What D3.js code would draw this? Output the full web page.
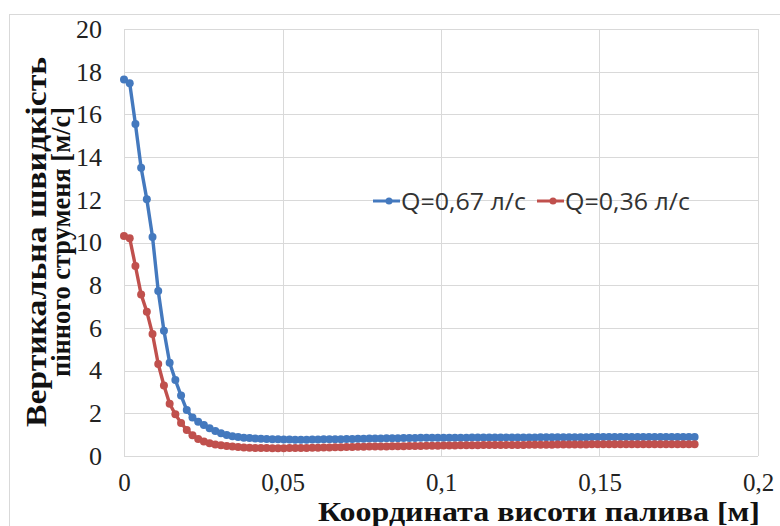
<!DOCTYPE html>
<html>
<head>
<meta charset="utf-8">
<script src="https://cdn.jsdelivr.net/npm/d3@7"></script>
<style>
  html, body { margin: 0; padding: 0; background: #fff; }
  svg { display: block; }
</style>
</head>
<body>
<svg id="chart" width="780" height="526"></svg>
<script>
// Sampling grid along the fuel height coordinate (m)
const xStep = 0.0018;
const pointCount = 101;

// Vertical foam-jet velocity, m/s, Q = 0,67 l/s
const flowHigh = [
  17.64, 17.46, 15.55, 13.5, 12.02, 10.26, 7.73, 5.87, 4.37, 3.56, 2.83,
  2.15, 1.8, 1.6, 1.45, 1.3, 1.17, 1.06, 0.98, 0.93, 0.89,
  0.86, 0.84, 0.82, 0.81, 0.8, 0.79, 0.78, 0.77, 0.77, 0.76,
  0.76, 0.76, 0.77, 0.77, 0.78, 0.78, 0.79, 0.79, 0.8, 0.8,
  0.81, 0.81, 0.82, 0.82, 0.82, 0.83, 0.83, 0.83, 0.84, 0.84,
  0.84, 0.85, 0.85, 0.85, 0.85, 0.86, 0.86, 0.86, 0.86, 0.86,
  0.87, 0.87, 0.87, 0.87, 0.87, 0.87, 0.87, 0.87, 0.87, 0.87,
  0.87, 0.87, 0.88, 0.88, 0.88, 0.88, 0.88, 0.88, 0.88, 0.88,
  0.88, 0.89, 0.89, 0.89, 0.89, 0.89, 0.89, 0.89, 0.89, 0.89,
  0.89, 0.89, 0.89, 0.89, 0.89, 0.89, 0.89, 0.89, 0.89, 0.89
];

// Vertical foam-jet velocity, m/s, Q = 0,36 l/s
const flowLow = [
  10.3, 10.2, 8.9, 7.57, 6.76, 5.71, 4.31, 3.3, 2.45, 1.95, 1.55,
  1.22, 0.97, 0.8, 0.68, 0.6, 0.54, 0.5, 0.47, 0.44, 0.42,
  0.4, 0.39, 0.38, 0.37, 0.37, 0.36, 0.36, 0.36, 0.37, 0.37,
  0.38, 0.38, 0.39, 0.39, 0.4, 0.4, 0.41, 0.41, 0.42, 0.42,
  0.43, 0.43, 0.44, 0.44, 0.45, 0.45, 0.46, 0.46, 0.46, 0.47,
  0.47, 0.47, 0.48, 0.48, 0.48, 0.49, 0.49, 0.49, 0.5, 0.5,
  0.5, 0.5, 0.51, 0.51, 0.51, 0.51, 0.52, 0.52, 0.52, 0.52,
  0.53, 0.53, 0.53, 0.53, 0.53, 0.54, 0.54, 0.54, 0.54, 0.54,
  0.54, 0.55, 0.55, 0.55, 0.55, 0.55, 0.55, 0.55, 0.55, 0.55,
  0.55, 0.55, 0.55, 0.55, 0.55, 0.55, 0.55, 0.55, 0.55, 0.55
];

const seriesNames = ["Q=0,67 л/с", "Q=0,36 л/с"];
const seriesColors = ["#4479BE", "#C0504D"];

const xTicks = [0, 0.05, 0.1, 0.15, 0.2];
const xTickLabels = ["0", "0,05", "0,1", "0,15", "0,2"];
const yTicks = [0, 2, 4, 6, 8, 10, 12, 14, 16, 18, 20];

const xTitle = "Координата висоти палива [м]";
const yTitleLines = ["Вертикальна швидкість", "пінного струменя [м/с]"];

const svg = d3.select("#chart");

const plot = { left: 124, right: 758, top: 29, bottom: 456 };

const x = d3.scaleLinear().domain([0, 0.2]).range([plot.left, plot.right]);
const y = d3.scaleLinear().domain([0, 20]).range([plot.bottom, plot.top]);

// Outer chart frame
svg.append("rect")
  .attr("x", 9.5).attr("y", 14.5)
  .attr("width", 800).attr("height", 600)
  .attr("fill", "#fff")
  .attr("stroke", "#d9d9d9").attr("stroke-width", 1);

// Gridlines
const grid = svg.append("g");
grid.selectAll("line.h").data(yTicks).join("line")
  .attr("x1", plot.left).attr("x2", plot.right)
  .attr("y1", d => Math.round(y(d)) + 0.5).attr("y2", d => Math.round(y(d)) + 0.5)
  .attr("stroke", "#d9d9d9").attr("stroke-width", 1);
grid.selectAll("line.v").data(xTicks).join("line")
  .attr("y1", plot.top).attr("y2", plot.bottom)
  .attr("x1", d => Math.round(x(d)) + 0.5).attr("x2", d => Math.round(x(d)) + 0.5)
  .attr("stroke", "#d9d9d9").attr("stroke-width", 1);

// Axes (tick labels only, Excel style)
const serif = "'Liberation Serif', 'Times New Roman', serif";

const yAxis = d3.axisLeft(y).tickValues(yTicks).tickSize(0).tickPadding(0)
  .tickFormat(d => String(d));
svg.append("g")
  .attr("transform", `translate(${plot.left - 22},0)`)
  .call(yAxis)
  .call(g => g.select(".domain").remove())
  .call(g => g.selectAll("text")
    .attr("font-family", serif).attr("font-size", 26)
    .attr("fill", "#222"));

const xAxis = d3.axisBottom(x).tickValues(xTicks).tickSize(0).tickPadding(0)
  .tickFormat((d, i) => xTickLabels[i]);
svg.append("g")
  .attr("transform", `translate(0,${plot.bottom + 17.5})`)
  .call(xAxis)
  .call(g => g.select(".domain").remove())
  .call(g => g.selectAll("text")
    .attr("font-family", serif).attr("font-size", 25)
    .attr("fill", "#222"));

// Axis titles
svg.append("text")
  .attr("x", 539).attr("y", 521)
  .attr("text-anchor", "middle")
  .attr("font-family", serif).attr("font-weight", "bold").attr("font-size", 27)
  .attr("textLength", 442).attr("lengthAdjust", "spacingAndGlyphs")
  .attr("fill", "#111")
  .text(xTitle);

const yTitleFont = [30, 27];
const yTitleLengths = [370, 270];
const yTitleBase = [46, 70];
const yTitle = svg.append("text")
  .attr("transform", "translate(0,242) rotate(-90)")
  .attr("text-anchor", "middle")
  .attr("font-family", serif).attr("font-weight", "bold")
  .attr("fill", "#111");
yTitle.selectAll("tspan").data(yTitleLines).join("tspan")
  .attr("x", 0)
  .attr("y", (d, i) => yTitleBase[i])
  .attr("font-size", (d, i) => yTitleFont[i])
  .attr("textLength", (d, i) => yTitleLengths[i])
  .attr("lengthAdjust", "spacingAndGlyphs")
  .text(d => d);

// Series
const series = [flowHigh, flowLow].map((vals, k) => ({
  name: seriesNames[k],
  color: seriesColors[k],
  points: vals.slice(0, pointCount).map((v, i) => ({ x: i * xStep, y: v }))
}));

const line = d3.line().x(d => x(d.x)).y(d => y(d.y));

const sg = svg.append("g").selectAll("g").data(series).join("g");
sg.append("path")
  .attr("d", d => line(d.points))
  .attr("fill", "none")
  .attr("stroke", d => d.color)
  .attr("stroke-width", 3.4)
  .attr("stroke-linejoin", "round");
sg.each(function (s) {
  d3.select(this).selectAll("circle").data(s.points).join("circle")
    .attr("cx", d => x(d.x)).attr("cy", d => y(d.y))
    .attr("r", 4)
    .attr("fill", s.color);
});

// Legend
const legendPos = [{ x: 373, t: 401 }, { x: 537, t: 565 }];
const legend = svg.append("g").selectAll("g").data(series).join("g")
  .attr("transform", "translate(0,201)");
legend.append("line")
  .attr("x1", (d, i) => legendPos[i].x).attr("x2", (d, i) => legendPos[i].x + 27)
  .attr("y1", 0).attr("y2", 0)
  .attr("stroke", d => d.color).attr("stroke-width", 3);
legend.append("circle")
  .attr("cx", (d, i) => legendPos[i].x + 16).attr("cy", 0).attr("r", 3.5)
  .attr("fill", d => d.color);
legend.append("text")
  .attr("x", (d, i) => legendPos[i].t).attr("y", 9)
  .attr("font-family", "'Open Sans', 'Liberation Sans', sans-serif")
  .attr("font-size", 24)
  .attr("textLength", 125).attr("lengthAdjust", "spacingAndGlyphs")
  .attr("fill", "#333")
  .text(d => d.name);
</script>
</body>
</html>
